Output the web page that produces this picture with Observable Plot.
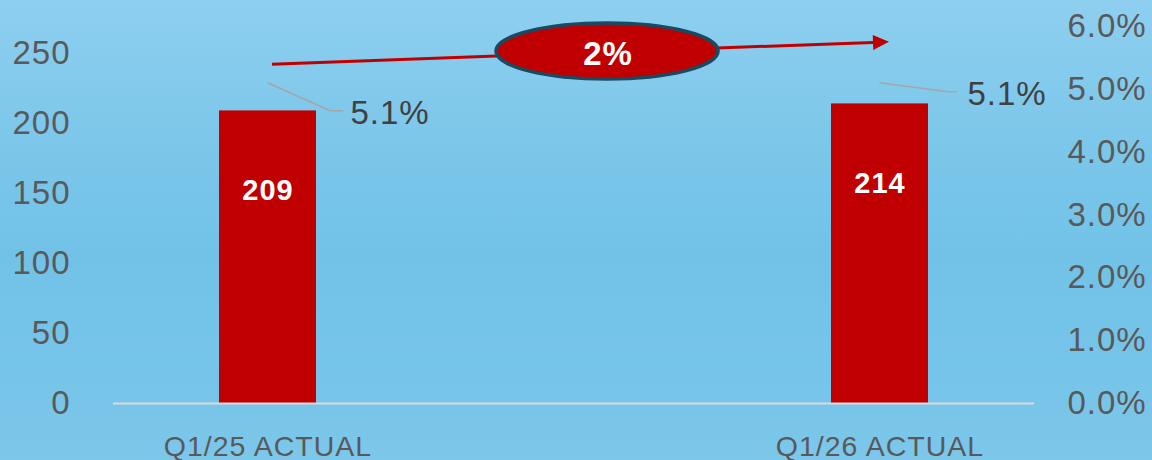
<!DOCTYPE html>
<html>
<head>
<meta charset="utf-8">
<script src="https://cdn.jsdelivr.net/npm/d3@7"></script>
<script src="https://cdn.jsdelivr.net/npm/@observablehq/plot@0.6"></script>
<style>
  html, body { margin: 0; padding: 0; }
  body {
    width: 1152px; height: 460px; overflow: hidden;
    background: linear-gradient(to bottom, #8ecff0 0%, #7cc7ea 30%, #72c2e8 55%, #76c4e9 80%, #7cc7ea 100%);
    font-family: "Liberation Sans", Arial, sans-serif;
  }
  #chart svg { display: block; }
  .ls text { letter-spacing: 1px; }
</style>
</head>
<body>
<div id="chart"></div>
<script>
// ---- data ----
const categories = ["Q1/25 ACTUAL", "Q1/26 ACTUAL"];
const values = [209, 214];
const shareValues = [5.1, 5.1];          // percent, right axis
const leftTicks = [0, 50, 100, 150, 200, 250];
const rightTicks = [0, 1, 2, 3, 4, 5, 6];
const growthLabel = "2%";
const arrowLevels = [242, 258];          // arrow start / end on left scale

// ---- build ----
const pctFactor = 62.8 / 1.4;           // left-axis units per 1% on the right axis
const data = categories.map((c, i) => ({cat: c, value: values[i], pct: shareValues[i]}));

const leaderOffsets = [
  [[0, 0], [62.5, 28], [75.5, 28]],
  [[0, 0], [68.5, 9], [77.5, 9]]
];
const labelOffsets = [[82.5, 30], [87.5, 11]];

function annotations(index, scales) {
  const x = scales.x, y = scales.y;
  const bw = typeof x.bandwidth === "function" ? x.bandwidth() : 0;
  const cx = c => x(c) + bw / 2;
  const g = d3.create("svg:g");

  data.forEach((d, i) => {
    const px = cx(d.cat), py = y(d.pct * pctFactor);
    g.append("path")
      .attr("d", d3.line()(leaderOffsets[i].map(([ox, oy]) => [px + ox, py + oy])))
      .attr("fill", "none").attr("stroke", "#a6a6a6").attr("stroke-width", 1.6);
  });

  const x1 = cx(categories[0]) + 4.5, y1 = y(arrowLevels[0]);
  const x2 = cx(categories[1]) + 9.5, y2 = y(arrowLevels[1]);
  const ang = Math.atan2(y2 - y1, x2 - x1);
  const hl = 16, hw = 7.5;
  const bx = x2 - hl * Math.cos(ang), by = y2 - hl * Math.sin(ang);
  g.append("line")
    .attr("x1", x1).attr("y1", y1).attr("x2", bx).attr("y2", by)
    .attr("stroke", "#c00000").attr("stroke-width", 3);
  g.append("path")
    .attr("d", `M${x2},${y2}L${bx + hw * Math.sin(ang)},${by - hw * Math.cos(ang)}L${bx - hw * Math.sin(ang)},${by + hw * Math.cos(ang)}Z`)
    .attr("fill", "#c00000");

  const t = 0.543;
  const ex = x1 + (x2 - x1) * t, ey = y1 + (y2 - y1) * t - 1;
  g.append("ellipse")
    .attr("cx", ex).attr("cy", ey).attr("rx", 111).attr("ry", 28)
    .attr("fill", "#c00000").attr("stroke", "#184a62").attr("stroke-width", 3.5);
  g.append("text")
    .attr("x", ex + 1).attr("y", ey + 2)
    .attr("text-anchor", "middle").attr("dominant-baseline", "central")
    .attr("fill", "#ffffff").attr("font-weight", "bold").attr("font-size", 33)
    .attr("letter-spacing", "1px")
    .attr("font-family", "'Liberation Sans', Arial, sans-serif")
    .text(growthLabel);
  return g.node();
}

const chart = Plot.plot({
  width: 1152,
  height: 460,
  marginTop: 53,
  marginBottom: 57,
  marginLeft: 113,
  marginRight: 118,
  style: {background: "transparent", color: "#595959", fontFamily: "'Liberation Sans', Arial, sans-serif", overflow: "visible"},
  x: {domain: categories, paddingInner: 0.8415, paddingOuter: 0.1732, axis: null},
  y: {domain: [0, 250], axis: null},
  marks: [
    Plot.axisY(leftTicks, {anchor: "left", label: null, tickSize: 0, tickPadding: 43, fontSize: 33, fill: "#595959", className: "ls"}),
    Plot.axisY(rightTicks.map(p => p * pctFactor), {anchor: "right", label: null, tickSize: 0, tickPadding: 33, fontSize: 33, fill: "#595959", className: "ls", tickFormat: d => (d / pctFactor).toFixed(1) + "%"}),
    Plot.axisX({label: null, tickSize: 0, tickPadding: 32, fontSize: 28.5, fill: "#595959", className: "ls"}),
    Plot.barY(data, {x: "cat", y: "value", fill: "#c00000"}),
    Plot.ruleY([0], {stroke: "#d9d9d9", strokeWidth: 2}),
    Plot.text(data, {x: "cat", y: "value", text: d => String(d.value), dy: 80, fill: "#ffffff", fontWeight: "bold", fontSize: 29, lineAnchor: "middle", className: "ls"}),
    Plot.text(data.slice(0, 1), {x: "cat", y: d => d.pct * pctFactor, text: d => d.pct.toFixed(1) + "%", dx: labelOffsets[0][0], dy: labelOffsets[0][1], textAnchor: "start", fill: "#404040", fontSize: 33, lineAnchor: "middle", className: "ls"}),
    Plot.text(data.slice(1, 2), {x: "cat", y: d => d.pct * pctFactor, text: d => d.pct.toFixed(1) + "%", dx: labelOffsets[1][0], dy: labelOffsets[1][1], textAnchor: "start", fill: "#404040", fontSize: 33, lineAnchor: "middle", className: "ls"}),
    annotations
  ]
});
document.getElementById("chart").appendChild(chart);
</script>
</body>
</html>
